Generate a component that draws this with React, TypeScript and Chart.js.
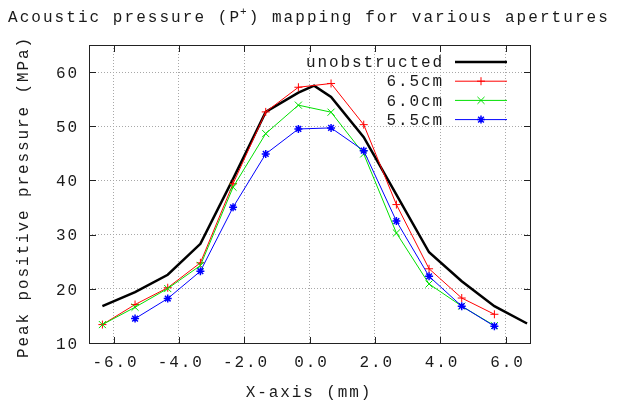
import React, { useEffect, useRef } from 'react';
import { Chart, registerables } from 'chart.js';

Chart.register(...registerables);

// ---- Text ----
const TITLE_MAIN = 'Acoustic pressure (P';
const TITLE_SUP = '+';
const TITLE_REST = ') mapping for various apertures';
const X_TITLE = 'X-axis (mm)';
const Y_TITLE = 'Peak positive pressure (MPa)';

// ---- Axis ticks ----
const xTicks = [-6, -4, -2, 0, 2, 4, 6];
const yTicks = [10, 20, 30, 40, 50, 60];

// ---- Series ----
const seriesLabels = ['unobstructed', '6.5cm', '6.0cm', '5.5cm'];

const xUnobstructed = [-6.34, -5.34, -4.34, -3.34, -2.34, -1.34, -0.34, 0.14, 0.66, 1.66, 2.66, 3.66, 4.66, 5.66, 6.66];
const pUnobstructed = [16.8, 19.4, 22.6, 28.3, 40.3, 52.65, 56.2, 57.5, 55.4, 48.0, 37.4, 26.75, 21.4, 16.8, 13.6];

const x65 = [-6.34, -5.34, -4.34, -3.34, -2.34, -1.34, -0.34, 0.66, 1.66, 2.66, 3.66, 4.66, 5.66];
const p65 = [13.4, 17.1, 20.2, 24.8, 39.4, 52.65, 57.2, 57.9, 50.3, 35.55, 23.7, 18.3, 15.3];

const x60 = [-6.34, -5.34, -4.34, -3.34, -2.34, -1.34, -0.34, 0.66, 1.66, 2.66, 3.66, 4.66, 5.66];
const p60 = [13.4, 16.6, 20.05, 24.3, 38.75, 48.65, 53.9, 52.6, 44.9, 30.3, 20.9, 16.8, 13.2];

const x55 = [-5.34, -4.34, -3.34, -2.34, -1.34, -0.34, 0.66, 1.66, 2.66, 3.66, 4.66, 5.66];
const p55 = [14.5, 18.2, 23.25, 35.05, 44.9, 49.5, 49.7, 45.5, 32.5, 22.3, 16.8, 13.1];

const seriesColors = ['#000000', '#ff0000', '#00e000', '#0000ff'];
const seriesStyles: (string | false)[] = [false, 'cross', 'crossRot', 'star'];

const FONT_FAMILY = '"Liberation Mono", "DejaVu Sans Mono", monospace';
const FONT = '16px ' + FONT_FAMILY;
const SPACING = 1.9;
const TITLE_SPACING = 2.05;
const TEXT_COLOR = '#1a1a1a';

function drawText(ctx: CanvasRenderingContext2D, text: string, x: number, y: number, align: 'left' | 'center' | 'right', font = FONT, spacing = SPACING) {
  ctx.save();
  ctx.font = font;
  (ctx as any).letterSpacing = spacing + 'px';
  ctx.textBaseline = 'middle';
  ctx.textAlign = 'left';
  ctx.fillStyle = TEXT_COLOR;
  const full = ctx.measureText(text).width;
  const w = full - spacing;
  let sx = x;
  if (align === 'center') sx = x - w / 2;
  else if (align === 'right') sx = x - w;
  ctx.fillText(text, sx, y);
  ctx.restore();
  return full;
}

function drawMarker(ctx: CanvasRenderingContext2D, style: string, r: number, x: number, y: number, color: string, lw: number) {
  ctx.save();
  ctx.strokeStyle = color;
  ctx.lineWidth = lw;
  ctx.beginPath();
  const d = r * Math.SQRT1_2;
  if (style === 'cross' || style === 'star') {
    ctx.moveTo(x - r, y); ctx.lineTo(x + r, y);
    ctx.moveTo(x, y - r); ctx.lineTo(x, y + r);
  }
  if (style === 'crossRot' || style === 'star') {
    ctx.moveTo(x - d, y - d); ctx.lineTo(x + d, y + d);
    ctx.moveTo(x - d, y + d); ctx.lineTo(x + d, y - d);
  }
  ctx.stroke();
  ctx.restore();
}

const decorPlugin = {
  id: 'decor',
  afterDraw(chart: any) {
    const ctx: CanvasRenderingContext2D = chart.ctx;
    const ca = chart.chartArea;
    const xs = chart.scales.x;
    const ys = chart.scales.y;

    // Border
    ctx.save();
    ctx.strokeStyle = '#222222';
    ctx.lineWidth = 1;
    ctx.strokeRect(ca.left + 0.5, ca.top + 0.5, ca.right - ca.left, ca.bottom - ca.top);
    // inner ticks
    ctx.beginPath();
    xTicks.forEach((v) => {
      const px = Math.round(xs.getPixelForValue(v)) + 0.5;
      ctx.moveTo(px, ca.bottom + 0.5); ctx.lineTo(px, ca.bottom - 6);
      ctx.moveTo(px, ca.top + 0.5); ctx.lineTo(px, ca.top + 7);
    });
    yTicks.forEach((v) => {
      const py = Math.round(ys.getPixelForValue(v)) + 0.5;
      ctx.moveTo(ca.left + 0.5, py); ctx.lineTo(ca.left + 7, py);
      ctx.moveTo(ca.right + 0.5, py); ctx.lineTo(ca.right - 6, py);
    });
    ctx.stroke();
    ctx.restore();

    // Tick labels
    xTicks.forEach((v) => {
      drawText(ctx, v.toFixed(1), xs.getPixelForValue(v) + 1, 363, 'center');
    });
    yTicks.forEach((v) => {
      drawText(ctx, String(v), 77, ys.getPixelForValue(v) + 1.5, 'right');
    });

    // Axis titles
    drawText(ctx, X_TITLE, 308, 393, 'center');
    ctx.save();
    ctx.translate(24, 198);
    ctx.rotate(-Math.PI / 2);
    drawText(ctx, Y_TITLE, 0, 0, 'center');
    ctx.restore();

    // Title with superscript
    let tx = 8;
    const ty = 18;
    tx += drawText(ctx, TITLE_MAIN, tx, ty, 'left', FONT, TITLE_SPACING);
    tx += drawText(ctx, TITLE_SUP, tx - 1, ty - 6, 'left', '11px ' + FONT_FAMILY, 1);
    drawText(ctx, TITLE_REST, tx, ty, 'left', FONT, TITLE_SPACING);

    // Legend
    seriesLabels.forEach((label, i) => {
      const rowY = 62 + i * 19.2;
      drawText(ctx, label, 442, rowY + 1, 'right');
      ctx.save();
      ctx.strokeStyle = seriesColors[i];
      ctx.lineWidth = i === 0 ? 2.5 : 1;
      ctx.beginPath();
      ctx.moveTo(455, rowY);
      ctx.lineTo(507, rowY);
      ctx.stroke();
      ctx.restore();
      const st = seriesStyles[i];
      if (st) drawMarker(ctx, st, st === 'crossRot' ? 5 : 4, 481, rowY, seriesColors[i], st === 'star' ? 1.5 : 1);
    });
  },
};

function toPoints(xs: number[], ys: number[]) {
  return xs.map((x, i) => ({ x, y: ys[i] }));
}

export default function App() {
  const canvasRef = useRef<HTMLCanvasElement | null>(null);

  useEffect(() => {
    const canvas = canvasRef.current;
    if (!canvas) return;
    const gridOpts = { color: '#a8a8a8', lineWidth: 1, drawTicks: false };
    const chart = new Chart(canvas, {
      type: 'line',
      data: {
        datasets: [
          {
            label: seriesLabels[0],
            data: toPoints(xUnobstructed, pUnobstructed),
            borderColor: seriesColors[0],
            borderWidth: 2.5,
            pointRadius: 0,
            order: 4,
          },
          {
            label: seriesLabels[1],
            data: toPoints(x65, p65),
            borderColor: seriesColors[1],
            borderWidth: 1,
            pointStyle: 'cross',
            pointRadius: 4,
            pointBorderColor: seriesColors[1],
            pointBorderWidth: 1,
            order: 3,
          },
          {
            label: seriesLabels[2],
            data: toPoints(x60, p60),
            borderColor: seriesColors[2],
            borderWidth: 1,
            pointStyle: 'crossRot',
            pointRadius: 5,
            pointBorderColor: seriesColors[2],
            pointBorderWidth: 1,
            order: 2,
          },
          {
            label: seriesLabels[3],
            data: toPoints(x55, p55),
            borderColor: seriesColors[3],
            borderWidth: 1,
            pointStyle: 'star',
            pointRadius: 4,
            pointBorderColor: seriesColors[3],
            pointBorderWidth: 1.5,
            order: 1,
          },
        ],
      },
      options: {
        animation: false,
        responsive: false,
        devicePixelRatio: 1,
        events: [],
        layout: { padding: { left: 89, top: 45, right: 88, bottom: 66 } },
        elements: { line: { tension: 0, fill: false }, point: { hitRadius: 0, hoverRadius: 0 } },
        plugins: { legend: { display: false }, title: { display: false }, tooltip: { enabled: false } },
        scales: {
          x: {
            type: 'linear',
            min: -6.75,
            max: 6.75,
            afterBuildTicks: (s: any) => { s.ticks = xTicks.map((v) => ({ value: v })); },
            afterFit: (s: any) => { s.height = 0; },
            ticks: { display: false },
            grid: gridOpts,
            border: { display: false, dash: [1, 2] },
          },
          y: {
            type: 'linear',
            min: 10,
            max: 65,
            afterBuildTicks: (s: any) => { s.ticks = yTicks.map((v) => ({ value: v })); },
            afterFit: (s: any) => { s.width = 0; },
            ticks: { display: false },
            grid: gridOpts,
            border: { display: false, dash: [1, 2] },
          },
        },
      },
      plugins: [decorPlugin],
    } as any);
    return () => chart.destroy();
  }, []);

  return (
    <div style={{ position: 'fixed', left: 0, top: 0, width: 618, height: 409, background: '#ffffff' }}>
      <canvas ref={canvasRef} width={618} height={409} style={{ display: 'block', width: 618, height: 409 }} />
    </div>
  );
}
